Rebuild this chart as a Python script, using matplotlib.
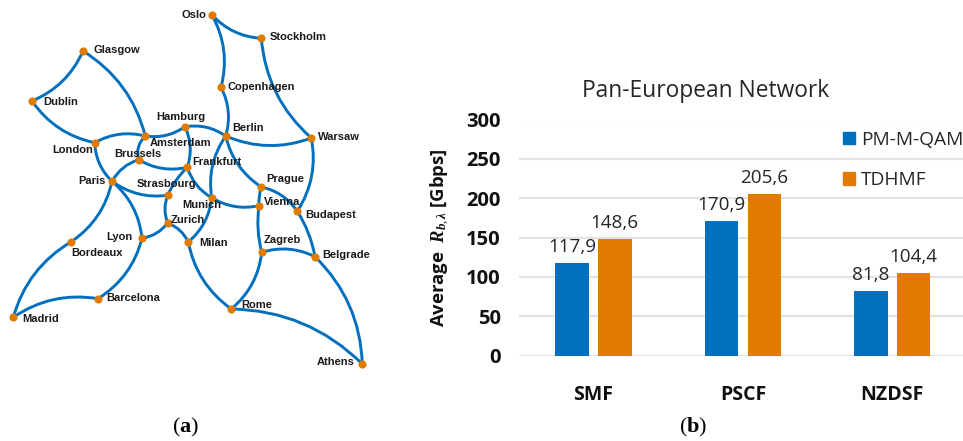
import numpy as np
from matplotlib import pyplot as plt
from matplotlib.path import Path
from matplotlib.patches import PathPatch, Patch

plt.rcParams['mathtext.fontset'] = 'custom'
plt.rcParams['mathtext.rm'] = 'Liberation Serif'
plt.rcParams['mathtext.it'] = 'Liberation Serif:italic:bold'
plt.rcParams['mathtext.bf'] = 'Liberation Serif:bold'

BLUE = '#0070BE'
ORANGE = '#E07B00'

# network nodes in pixels
nodes = {
    'Oslo': (212, 15), 'Stockholm': (261.3, 38.3), 'Glasgow': (83, 51),
    'Copenhagen': (221, 87.3), 'Dublin': (32, 101), 'Hamburg': (185, 126.7),
    'Berlin': (225.7, 136), 'Warsaw': (311.3, 138), 'Amsterdam': (145.3, 136),
    'London': (94.7, 142.7), 'Brussels': (138.7, 159.7), 'Frankfurt': (187.3, 167.3),
    'Prague': (261.3, 187), 'Paris': (112, 181.3), 'Strasbourg': (167.7, 195.3),
    'Vienna': (259, 205.7), 'Munich': (211.7, 197.7), 'Budapest': (297.3, 211.3),
    'Zurich': (167.7, 223), 'Lyon': (142, 238.3), 'Milan': (188.3, 242),
    'Zagreb': (261.7, 252.3), 'Bordeaux': (71.3, 241.7), 'Belgrade': (315, 256.7),
    'Barcelona': (98, 298.7), 'Rome': (231.3, 309), 'Madrid': (13.3, 317.3),
    'Athens': (362.3, 364),
}

# left edge and middle of each label
labelPos = {
    'Oslo': (182, 15), 'Stockholm': (270, 37), 'Glasgow': (94, 50),
    'Copenhagen': (228, 87), 'Dublin': (43, 102), 'Hamburg': (156, 117),
    'Berlin': (232, 128), 'Warsaw': (318, 137), 'Amsterdam': (150, 143),
    'London': (52, 150), 'Brussels': (114, 154), 'Frankfurt': (192, 162),
    'Prague': (266, 179), 'Paris': (78, 181), 'Strasbourg': (137, 184),
    'Vienna': (264, 202), 'Munich': (182, 205), 'Budapest': (305, 215),
    'Zurich': (171, 220), 'Lyon': (106, 237), 'Milan': (199, 243),
    'Zagreb': (264, 240), 'Bordeaux': (71, 253), 'Belgrade': (322, 255),
    'Barcelona': (106, 298), 'Rome': (241, 305), 'Madrid': (22, 319),
    'Athens': (317, 362),
}

# links: from, to, bend (share of link length, + is to the right going from -> to on screen)
links = [
    ('Glasgow', 'Dublin', -0.2), ('Glasgow', 'Amsterdam', -0.2),
    ('Dublin', 'London', 0.2), ('London', 'Amsterdam', -0.2),
    ('Amsterdam', 'Hamburg', 0.2), ('Amsterdam', 'Brussels', 0.3),
    ('London', 'Paris', 0.2), ('Brussels', 'Paris', 0.2),
    ('Brussels', 'Frankfurt', 0.2), ('Hamburg', 'Frankfurt', -0.2),
    ('Hamburg', 'Berlin', -0.2), ('Frankfurt', 'Strasbourg', 0.1),
    ('Frankfurt', 'Munich', 0.2), ('Paris', 'Strasbourg', 0.2),
    ('Paris', 'Bordeaux', -0.2), ('Paris', 'Lyon', -0.2),
    ('Bordeaux', 'Madrid', 0.2), ('Madrid', 'Barcelona', -0.2),
    ('Lyon', 'Barcelona', -0.2), ('Lyon', 'Zurich', 0.2),
    ('Strasbourg', 'Zurich', 0.2), ('Zurich', 'Milan', -0.2),
    ('Munich', 'Milan', -0.2), ('Milan', 'Rome', 0.2),
    ('Rome', 'Zagreb', 0.2), ('Rome', 'Athens', -0.2),
    ('Zagreb', 'Belgrade', -0.2), ('Belgrade', 'Athens', -0.2),
    ('Vienna', 'Zagreb', 0.1), ('Budapest', 'Belgrade', -0.1),
    ('Prague', 'Vienna', 0.1), ('Prague', 'Budapest', -0.2),
    ('Berlin', 'Prague', 0.2), ('Berlin', 'Munich', 0.2),
    ('Munich', 'Vienna', 0.2), ('Berlin', 'Warsaw', 0.2),
    ('Warsaw', 'Budapest', -0.2), ('Stockholm', 'Warsaw', 0.2),
    ('Oslo', 'Stockholm', 0.2), ('Oslo', 'Copenhagen', -0.2),
    ('Copenhagen', 'Berlin', -0.2),
]

# bar chart
fibers = ['SMF', 'PSCF', 'NZDSF']
pmQam = [117.9, 170.9, 81.8]
tdhmf = [148.6, 205.6, 104.4]
yTicks = [0, 50, 100, 150, 200, 250, 300]

fig = plt.figure(figsize=(9.63, 4.41), dpi=100)

# whole figure in pixels, y down, for the network
net = fig.add_axes([0, 0, 1, 1])
net.set_xlim(0, 963)
net.set_ylim(441, 0)
net.axis('off')

for a, b, bend in links:
    p0 = np.array(nodes[a])
    p1 = np.array(nodes[b])
    d = p1 - p0
    ctrl = (p0 + p1) / 2 + bend * np.array([-d[1], d[0]])
    path = Path([p0, ctrl, p1], [Path.MOVETO, Path.CURVE3, Path.CURVE3])
    net.add_patch(PathPatch(path, fill=False, edgecolor=BLUE, lw=2.1, zorder=1))

net.scatter([n[0] for n in nodes.values()], [n[1] for n in nodes.values()],
            s=34, color=ORANGE, linewidths=0, zorder=2)

for name, (x, y) in labelPos.items():
    net.text(x, y, name, family='Liberation Sans', weight='bold', fontsize=8,
             color='#1a1a1a', va='center', ha='left', zorder=3)

net.text(186, 427, r'($\mathbf{a}$)', fontsize=16, ha='center', va='center', family='Liberation Serif')
net.text(693, 427, r'($\mathbf{b}$)', fontsize=16, ha='center', va='center', family='Liberation Serif')

# category spacing is 149.4 px, so the right side runs just past the figure
ax = fig.add_axes([518.8 / 963, (441 - 355.5) / 441, 448.2 / 963, 236 / 441])
ax.patch.set_alpha(0)
x = np.arange(len(fibers))
offset = 0.143
barWidth = 0.224
blueBars = ax.bar(x - offset, pmQam, barWidth, color=BLUE, zorder=2, label='PM-M-QAM')
orangeBars = ax.bar(x + offset, tdhmf, barWidth, color=ORANGE, zorder=2, label='TDHMF')

for bars, vals in ((blueBars, pmQam), (orangeBars, tdhmf)):
    ax.bar_label(bars, labels=[str(v).replace('.', ',') for v in vals], padding=5,
                 family='Open Sans', fontsize=13.6, color='#262626')

ax.set_xlim(-0.5, 2.5)
ax.set_ylim(0, 300)
ax.set_yticks(yTicks)
ax.set_xticks(x)
ax.set_xticklabels(fibers, family='Open Sans', weight='bold', fontsize=14, color='#111111')
ax.tick_params(axis='both', length=0)
ax.tick_params(axis='x', pad=21)
ax.tick_params(axis='y', pad=13)
for t in ax.get_yticklabels():
    t.set_family('Open Sans')
    t.set_weight('bold')
    t.set_fontsize(14.5)
    t.set_color('#111111')
ax.grid(axis='y', color='#E2E2E2', lw=1.5, zorder=0)
ax.set_axisbelow(True)
for s in ax.spines.values():
    s.set_visible(False)

net.text(706, 91, 'Pan-European Network', family='Open Sans', fontsize=16.4,
         color='#262626', ha='center', va='center')
net.text(440, 238, r'Average  $R_{b,\lambda}$ [Gbps]', family='Open Sans', weight='bold',
         fontsize=13.3, color='#111111', rotation=90, ha='center', va='center')

handles = [Patch(color=BLUE, label='PM-M-QAM'), Patch(color=ORANGE, label='TDHMF')]
leg = fig.legend(handles=handles, loc='upper left', bbox_to_anchor=(843 / 963, 1 - 131 / 441),
                 frameon=False, handlelength=0.62, handleheight=0.62, handletextpad=0.3,
                 labelspacing=1.15, borderaxespad=0, borderpad=0,
                 prop={'family': 'Open Sans', 'size': 13.8})
for t in leg.get_texts():
    t.set_color('#262626')

fig.savefig('out.png', dpi=100)
